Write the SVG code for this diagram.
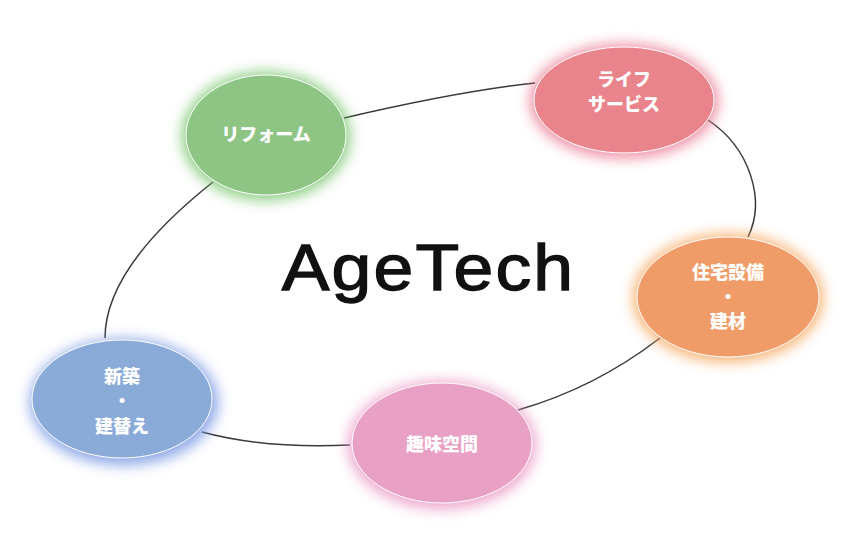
<svg xmlns="http://www.w3.org/2000/svg" width="852" height="549" viewBox="0 0 852 549">
<defs>
<style>
.lbl{font-family:"Noto Sans CJK JP","Noto Sans",sans-serif;font-weight:900;font-size:18px;fill:#fff;text-anchor:middle}
.node{stroke:#fff;stroke-width:1}
.conn{fill:none;stroke:#3a3a3a;stroke-width:1.5}
</style>
<filter id="glow" x="-30%" y="-30%" width="160%" height="160%">
<feGaussianBlur stdDeviation="7"/>
</filter>
</defs>
<rect width="852" height="549" fill="#fff"/>
<g id="connectors">
<path class="conn" d="M213,182 C150,232 105,285 105,338"/>
<path class="conn" d="M344,118 Q460,91 535,83"/>
<path class="conn" d="M708,120 C750,148 766,200 748,237"/>
<path class="conn" d="M660,338 Q595,388 518,410"/>
<path class="conn" d="M202,432 Q265,449 350,445"/>
</g>
<text transform="translate(428.5,290) scale(1.1,1)" x="0" y="0" font-family="'Liberation Sans', Arial, sans-serif" font-size="65" letter-spacing="2" fill="#111" stroke="#111" stroke-width="1.3" text-anchor="middle">AgeTech</text>
<g id="node-reform">
<ellipse cx="266" cy="136" rx="84" ry="64" fill="#6cbf5f" filter="url(#glow)" opacity="0.8"/>
<ellipse class="node" cx="266" cy="135" rx="80" ry="60" fill="#8ec585"/>
<text class="lbl" x="266" y="141">リフォーム</text>
</g>
<g id="node-life">
<ellipse cx="624" cy="101" rx="94" ry="57" fill="#e8708a" filter="url(#glow)" opacity="0.8"/>
<ellipse class="node" cx="624" cy="100" rx="90" ry="53" fill="#e9848c"/>
<text class="lbl" x="624" y="86">ライフ</text>
<text class="lbl" x="624" y="111">サービス</text>
</g>
<g id="node-housing">
<ellipse cx="728" cy="298" rx="95" ry="64" fill="#f5a050" filter="url(#glow)" opacity="0.8"/>
<ellipse class="node" cx="728" cy="297" rx="91" ry="60" fill="#f09c68"/>
<text class="lbl" x="728" y="279">住宅設備</text>
<text class="lbl" x="728" y="303">・</text>
<text class="lbl" x="728" y="328">建材</text>
</g>
<g id="node-hobby">
<ellipse cx="442" cy="445" rx="94" ry="64" fill="#e890c0" filter="url(#glow)" opacity="0.8"/>
<ellipse class="node" cx="442" cy="443" rx="90" ry="60" fill="#e9a0c5"/>
<text class="lbl" x="442" y="451">趣味空間</text>
</g>
<g id="node-new">
<ellipse cx="124" cy="402" rx="94" ry="63" fill="#7090e0" filter="url(#glow)" opacity="0.8"/>
<ellipse class="node" cx="122" cy="399" rx="90" ry="59" fill="#8aaad8"/>
<text class="lbl" x="122" y="383">新築</text>
<text class="lbl" x="122" y="407">・</text>
<text class="lbl" x="122" y="433">建替え</text>
</g>
</svg>
